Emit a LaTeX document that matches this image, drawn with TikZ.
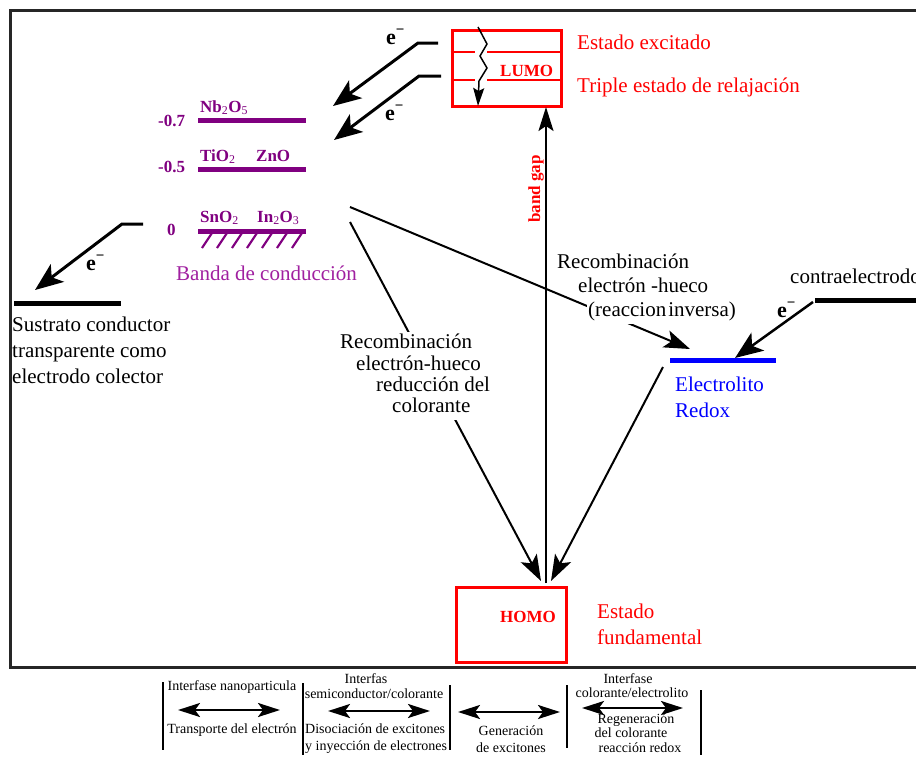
\documentclass[tikz,border=0pt]{standalone}
\usepackage{fontspec}
\setmainfont{Liberation Serif}
\usetikzlibrary{arrows.meta}
\definecolor{lvl}{RGB}{128,0,128}
\definecolor{bandtxt}{RGB}{160,32,160}
\definecolor{redoxblue}{RGB}{0,0,255}
\newcommand{\elect}{{\fontsize{22}{24}\selectfont\bfseries e\raisebox{0.42em}{\fontsize{15}{15}\selectfont\bfseries −}}}
\begin{document}
\begin{tikzpicture}[x=1pt,y=-1pt,
  txt/.style={font=\fontsize{21}{25}\selectfont, inner sep=0pt, anchor=base west},
  covtxt/.style={txt, fill=white, inner sep=1.5pt, xshift=-1.5pt, text height=15pt, text depth=6pt},
  lbl/.style={font=\fontsize{17}{20}\selectfont\bfseries, inner sep=0pt, anchor=base west},
  legtxt/.style={font=\fontsize{14}{15}\selectfont, inner sep=0pt, anchor=base},
  eleclbl/.style={inner sep=0pt, anchor=base west},
  earrow/.style={line width=3pt, -{Stealth[length=28pt,width=22pt,inset=7pt]}},
  rarrow/.style={line width=2pt, -{Stealth[length=26pt,width=18pt,inset=6pt]}},
  dblarrow/.style={line width=2.5pt, {Stealth[length=22pt,width=14pt,inset=5pt]}-{Stealth[length=22pt,width=14pt,inset=5pt]}},
  level/.style={line width=5pt, color=lvl},
  bar/.style={line width=2.5pt},
  redbox/.style={draw=red, line width=3pt, inner sep=0pt}
]
\useasboundingbox (0,0) rectangle (916,758);

% outer frame (open on the right)
\draw[line width=3pt, black!85] (916,10) -- (10,10) -- (10,667) -- (916,667);

% ---------- energy levels of the dye ----------
\node[redbox, minimum width=109pt, minimum height=76pt] (lumo) at (506.5,68) {};
\node[redbox, minimum width=110pt, minimum height=75pt] (homo) at (511,624.5) {};
\draw[red, line width=2.5pt] (lumo.west |- 0,52) -- (475,52) (487,52) -- (lumo.east |- 0,52);
\draw[red, line width=2.5pt] (lumo.west |- 0,80) -- (475,80) (487,80) -- (lumo.east |- 0,80);
\coordinate (zz0) at (478,27);
\coordinate (zz1) at (478,106);
\draw[line width=1.5pt, -{Stealth[length=18pt,width=11pt,inset=3pt]}]
  (zz0) -- (487,44) -- (480,56) -- (487,68) -- (479,81) -- (zz1);
\node[lbl, red] (lumotxt) at (500,76) {LUMO};
\node[lbl, red] (homotxt) at (500,622) {HOMO};
\node[txt, red] (exc) at (577,49) {Estado excitado};
\node[txt, red] (trip) at (577,92) {Triple estado de relajación};
\node[txt, red] (fund1) at (597,618) {Estado};
\node[txt, red] (fund2) at (597,644) {fundamental};

% ---------- semiconductor conduction bands ----------
\coordinate (nbL) at (198,120); \coordinate (nbR) at (306,120);
\coordinate (tiL) at (198,169); \coordinate (tiR) at (306,169);
\coordinate (snL) at (198,231); \coordinate (snR) at (306,231);
\draw[level] (nbL) -- (nbR);
\draw[level] (tiL) -- (tiR);
\draw[level] (snL) -- (snR);
\foreach \i in {0,...,6}
  \draw[lvl, line width=2.2pt] (202+15*\i,248) -- (212+15*\i,233);
\node[lbl, lvl] (v07) at (158,126) {-0.7};
\node[lbl, lvl] (v05) at (158,172) {-0.5};
\node[lbl, lvl] (v00) at (167,235) {0};
\node[lbl, lvl] (nb) at (200,112) {Nb\textsubscript{\mdseries 2}O\textsubscript{\mdseries 5}};
\node[lbl, lvl] (ti) at (200,161) {TiO\textsubscript{\mdseries 2}};
\node[lbl, lvl] (zn) at (256,161) {ZnO};
\node[lbl, lvl] (sn) at (200,222) {SnO\textsubscript{\mdseries 2}};
\node[lbl, lvl] (in) at (257,222) {In\textsubscript{\mdseries 2}O\textsubscript{\mdseries 3}};
\node[txt, bandtxt] (banda) at (176,280) {Banda de conducción};

% ---------- electron injection ----------
\coordinate (i1a) at (438,43); \coordinate (i1b) at (418,43); \coordinate (i1c) at (333,106);
\coordinate (i2a) at (441,76); \coordinate (i2b) at (419,76); \coordinate (i2c) at (334,140);
\draw[earrow] (i1a) -- (i1b) -- (i1c);
\draw[earrow] (i2a) -- (i2b) -- (i2c);
\node[eleclbl] (e1) at (386,44) {\elect};
\node[eleclbl] (e2) at (385,120) {\elect};

% ---------- collecting electrode ----------
\coordinate (c1a) at (143,224); \coordinate (c1b) at (122,224); \coordinate (c1c) at (35,290);
\draw[earrow] (c1a) -- (c1b) -- (c1c);
\node[eleclbl] (e3) at (86,270) {\elect};
\coordinate (subL) at (14,303); \coordinate (subR) at (121,303);
\draw[line width=5pt] (subL) -- (subR);
\node[txt] (sus1) at (12,331) {Sustrato conductor};
\node[txt] (sus2) at (12,357) {transparente como};
\node[txt] (sus3) at (12,383) {electrodo colector};

% ---------- counter electrode and electrolyte ----------
\coordinate (ceL) at (815,300); \coordinate (ceR) at (916,300);
\draw[line width=5pt] (ceL) -- (ceR);
\node[txt] (contra) at (790,283) {contraelectrodo};
\coordinate (elL) at (670,360); \coordinate (elR) at (776,360);
\draw[line width=5pt, redoxblue] (elL) -- (elR);
\coordinate (ce0) at (813,302); \coordinate (ce1) at (735,358);
\draw[earrow, line width=2.5pt] (ce0) -- (ce1);
\node[eleclbl] (e4) at (777,317) {\elect};
\node[txt, redoxblue] (elec1) at (675,391) {Electrolito};
\node[txt, redoxblue] (elec2) at (675,417) {Redox};

% ---------- recombination and regeneration paths ----------
\coordinate (rb0) at (350,207); \coordinate (rb1) at (690,349);
\coordinate (rc0) at (350,222); \coordinate (rc1) at (541,581);
\coordinate (rg0) at (663,367); \coordinate (rg1) at (551,581);
\coordinate (bg0) at (546,583); \coordinate (bg1) at (546,107);
\draw[rarrow] (rb0) -- (rb1);
\draw[rarrow] (rc0) -- (rc1);
\draw[rarrow] (rg0) -- (rg1);
\draw[line width=2pt, -{Stealth[length=24pt,width=15pt,inset=5pt]}] (bg0) -- (bg1);
\node[font=\fontsize{17}{20}\selectfont\bfseries, red, rotate=90, inner sep=0pt] (gap) at (536,189) {band gap};

\node[covtxt] (ri1) at (557,268) {Recombinación};
\node[covtxt] (ri2) at (578,292) {electrón -hueco};
\node[covtxt] (ri3) at (588,316) {(reaccion\hspace{2pt}inversa)};
\node[covtxt] (rr1) at (340,348) {Recombinación};
\node[covtxt] (rr2) at (356,370) {electrón-hueco};
\node[covtxt] (rr3) at (376,391) {reducción del};
\node[covtxt] (rr4) at (392,412) {colorante};

% ---------- process legend ----------
\coordinate (b1t) at (163,682); \coordinate (b1b) at (163,750);
\coordinate (b2t) at (303,683); \coordinate (b2b) at (303,755);
\coordinate (b3t) at (450,685); \coordinate (b3b) at (450,750);
\coordinate (b4t) at (567,685); \coordinate (b4b) at (567,748);
\coordinate (b5t) at (701,690); \coordinate (b5b) at (701,755);
\foreach \n in {1,...,5} \draw[bar] (b\n t) -- (b\n b);
\coordinate (a1l) at (178,710); \coordinate (a1r) at (280,710);
\coordinate (a2l) at (328,711); \coordinate (a2r) at (430,711);
\coordinate (a3l) at (458,712); \coordinate (a3r) at (560,712);
\coordinate (a4l) at (582,708); \coordinate (a4r) at (683,708);
\foreach \n in {1,...,4} \draw[dblarrow] (a\n l) -- (a\n r);
\node[legtxt] (l1a) at (232,690) {Interfase nanoparticula};
\node[legtxt] (l1b) at (232,733) {Transporte del electrón};
\node[legtxt] (l2a) at (366,683) {Interfas};
\node[legtxt] (l2b) at (374,698) {semiconductor/colorante};
\node[legtxt, anchor=base west] (l2c) at (305,733) {Disociación de excitones};
\node[legtxt, anchor=base west] (l2d) at (305,750) {y inyección de electrones};
\node[legtxt] (l3a) at (511,735) {Generación};
\node[legtxt] (l3b) at (511,752) {de excitones};
\node[legtxt] (l4a) at (628,683) {Interfase};
\node[legtxt] (l4b) at (632,697) {colorante/electrolito};
\node[legtxt] (l4c) at (636,723) {Regeneración};
\node[legtxt] (l4d) at (631,737) {del colorante};
\node[legtxt] (l4e) at (640,752) {reacción redox};
\end{tikzpicture}
\end{document}
